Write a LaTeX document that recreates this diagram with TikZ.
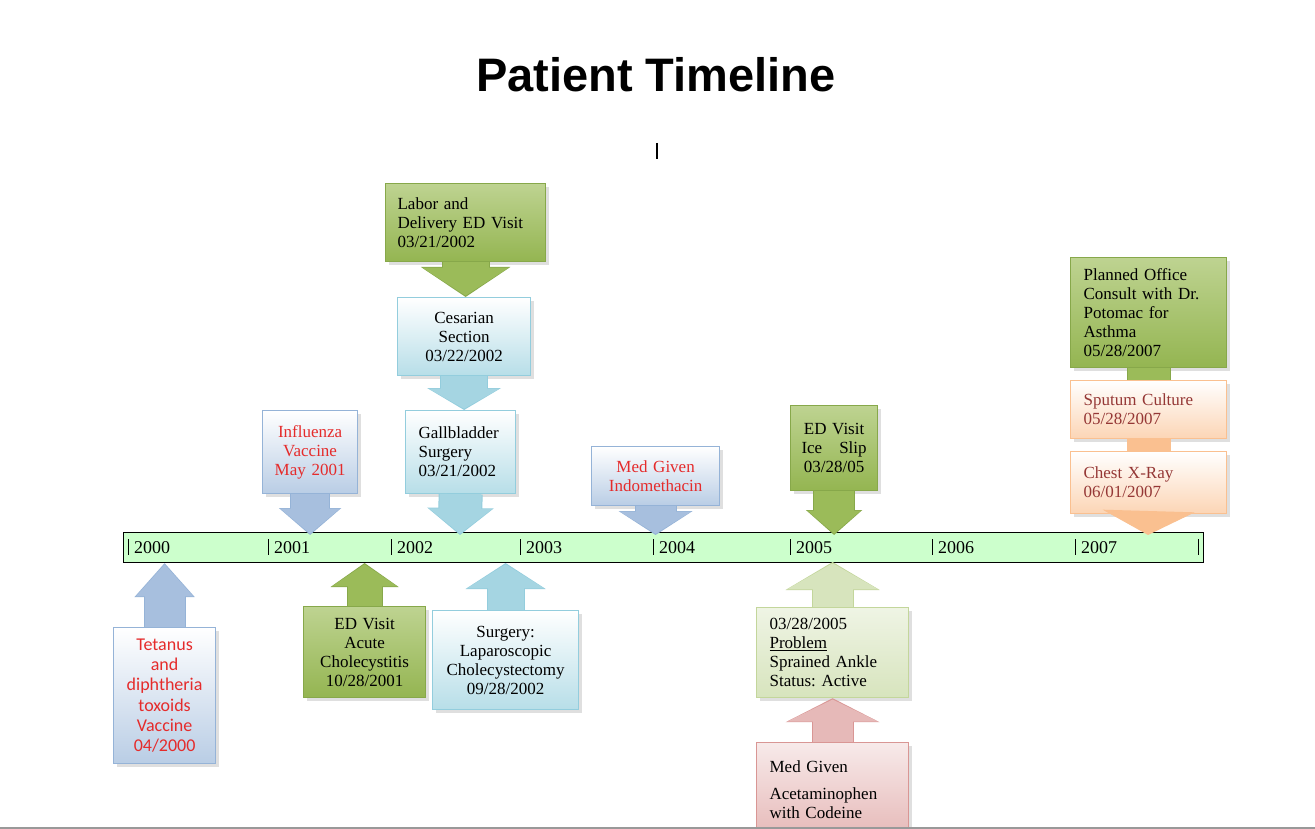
\documentclass[tikz,border=0pt]{standalone}
\usepackage{fontspec}
\setmainfont{Liberation Serif}
\newfontfamily\headfont{Liberation Sans}
\newfontfamily\calfont{Carlito}
\usetikzlibrary{arrows.meta,shadows}
\frenchspacing

\definecolor{blueline}{HTML}{95B3D7}
\definecolor{bluefill}{HTML}{B9CDE5}
\definecolor{bluearrow}{HTML}{A7BFDE}
\definecolor{cyanline}{HTML}{93CDDD}
\definecolor{cyanfill}{HTML}{B7DEE8}
\definecolor{cyanarrow}{HTML}{A5D5E2}
\definecolor{greenline}{HTML}{87A84A}
\definecolor{greentop}{HTML}{BED391}
\definecolor{greenfill}{HTML}{94B551}
\definecolor{greenarrow}{HTML}{9BBB59}
\definecolor{paleline}{HTML}{C3D69B}
\definecolor{palefill}{HTML}{D7E4BD}
\definecolor{palearrow}{HTML}{D7E4BD}
\definecolor{peachline}{HTML}{FAC090}
\definecolor{peachfill}{HTML}{FCD5B5}
\definecolor{peacharrow}{HTML}{FAC090}
\definecolor{pinkline}{HTML}{D99694}
\definecolor{pinkfill}{HTML}{E6B9B8}
\definecolor{pinkarrow}{HTML}{E6B9B8}
\definecolor{barfill}{HTML}{CCFFCC}
\definecolor{alertred}{HTML}{E52B2B}
\definecolor{darkred}{HTML}{953735}

\newcommand{\boxfont}{\fontsize{17}{19}\selectfont}

% block arrow: from, to, shaft, head width, head length, colour prefix
\newcommand{\blockarrow}[6]{%
	\pgfmathsetmacro{\arsw}{#3+2}%
	\pgfmathsetmacro{\arhw}{#4+3}%
	\pgfmathsetmacro{\arhl}{#5+2}%
	\draw[#6line, line width=\arsw pt, -{Triangle[width=\arhw pt, length=\arhl pt]}]
		(#1) -- (#2);
	\draw[#6arrow, line width=#3pt, shorten >=1.3pt, -{Triangle[width=#4pt, length=#5pt]}]
		(#1) -- (#2);}
% shaft only: from, to, width, colour prefix
\newcommand{\blockshaft}[4]{%
	\pgfmathsetmacro{\arsw}{#3+2}%
	\draw[#4line, line width=\arsw pt] (#1) -- (#2);
	\draw[#4arrow, line width=#3pt] (#1) -- (#2);}

\begin{document}
\begin{tikzpicture}[x=1pt, y=-1pt,
	box/.style={draw, line width=1.2pt, inner sep=0pt, font=\boxfont, align=center,
		drop shadow={shadow xshift=3pt, shadow yshift=-3pt, opacity=0.25}},
	boxsize/.style 2 args={minimum width=#1pt, minimum height=#2pt},
	bluebox/.style={box, draw=blueline, top color=white, bottom color=bluefill},
	cyanbox/.style={box, draw=cyanline, top color=white, bottom color=cyanfill},
	greenbox/.style={box, draw=greenline, top color=greentop, bottom color=greenfill},
	palebox/.style={box, draw=paleline, top color=white!60!palefill, bottom color=palefill},
	peachbox/.style={box, draw=peachline, top color=white, bottom color=peachfill, text=darkred},
	pinkbox/.style={box, draw=pinkline, top color=white!70!pinkfill, bottom color=pinkfill},
	year/.style={anchor=west, inner sep=0pt, font=\fontsize{18}{20}\selectfont}]

	\useasboundingbox (0,0) rectangle (1315,829);
	\fill[white] (0,0) rectangle (1315,829);

	% title
	\node (title) at (656,75)
		{\headfont\bfseries\fontsize{47}{52}\selectfont Patient Timeline};
	\draw[line width=1.5pt] (657,143) -- (657,159);

	% timeline
	\node[draw, fill=barfill, line width=1pt, inner sep=0pt,
		minimum width=1080pt, minimum height=30pt] (bar) at (663,547) {};
	\foreach \x/\yr in {128/2000, 268/2001, 391/2002, 520/2003, 653/2004,
			790/2005, 932/2006, 1075/2007} {
		\draw[line width=0.9pt] (\x,539) -- (\x,555);
		\node[year] (y\yr) at (\x+6,548) {\yr};
	}
	\draw[line width=0.9pt] (1198,539) -- (1198,555);

	% above the timeline
	\node[greenbox, boxsize={160}{78}, text width=136pt, align=left, anchor=north west]
		(labor) at (385,183) {Labor and\\Delivery ED Visit\\03/21/2002};
	\node[cyanbox, boxsize={133}{78}, text width=120pt, anchor=north west]
		(csect) at (397,297) {Cesarian\\Section\\03/22/2002};
	\node[cyanbox, boxsize={110}{83}, text width=84pt, align=left, anchor=north west]
		(gall) at (405,410) {Gallbladder\\Surgery\\03/21/2002};
	\node[bluebox, boxsize={95}{83}, text width=90pt, text=alertred, anchor=north west]
		(flu) at (262,410) {Influenza\\Vaccine\\May 2001};
	\node[bluebox, boxsize={128}{59}, text width=120pt, text=alertred, anchor=north west]
		(indo) at (591,446) {Med Given\\Indomethacin};
	\node[greenbox, boxsize={87}{85}, text width=84pt, anchor=north west]
		(ice) at (790,405) {ED Visit\\Ice\ \ \ Slip\\03/28/05};
	\node[greenbox, boxsize={156}{110}, text width=130pt, align=left, anchor=north west]
		(consult) at (1070,257) {Planned Office\\Consult with Dr.\\Potomac for\\Asthma\\05/28/2007};
	\node[peachbox, boxsize={156}{58}, text width=130pt, align=left, anchor=north west]
		(sputum) at (1070,380) {Sputum Culture\\05/28/2007};
	\node[peachbox, boxsize={156}{62}, text width=130pt, align=left, anchor=north west]
		(xray) at (1070,451) {Chest X-Ray\\06/01/2007};

	% below the timeline
	\node[bluebox, boxsize={102}{136}, text width=98pt, text=alertred, anchor=north west,
		font=\calfont\fontsize{18}{20.2}\selectfont]
		(tetanus) at (113,627) {Tetanus\\and\\diphtheria\\toxoids\\Vaccine\\04/2000};
	\node[greenbox, boxsize={122}{91}, text width=118pt, anchor=north west]
		(acute) at (303,606) {ED Visit\\Acute\\Cholecystitis\\10/28/2001};
	\node[cyanbox, boxsize={146}{99}, text width=140pt, anchor=north west]
		(lapchole) at (432,610) {Surgery:\\Laparoscopic\\Cholecystectomy\\09/28/2002};
	\node[palebox, boxsize={152}{90}, text width=126pt, align=left, anchor=north west]
		(sprain) at (756,607) {03/28/2005\\\underline{Problem}\\Sprained Ankle\\Status: Active};
	\node[pinkbox, boxsize={152}{95}, text width=126pt, align=left, anchor=north west]
		(acet) at (756,742) {Med Given\\[8pt]Acetaminophen\\with Codeine};

	% tips
	\coordinate (csect-top) at (labor.south |- csect.north);
	\coordinate (gall-top) at (csect.south |- gall.north);
	\coordinate (gall-tip) at (460,535);
	\coordinate (flu-tip) at (flu.south |- gall-tip);
	\coordinate (indo-tip) at (indo.south |- gall-tip);
	\coordinate (ice-tip) at (ice.south |- gall-tip);
	\coordinate (xray-tip) at (1148,535);
	\coordinate (tetanus-tip) at (tetanus.north |- 0,563);
	\coordinate (acute-tip) at (acute.north |- 0,563);
	\coordinate (lapchole-tip) at (lapchole.north |- 0,563);
	\coordinate (sprain-tip) at (sprain.north |- 0,562);
	\coordinate (acet-tip) at (acet.north |- sprain.south);

	% arrows
	\blockarrow{labor.south}{csect-top}{46}{85}{28}{green}
	\blockarrow{csect.south}{gall-top}{46}{70}{20}{cyan}
	\blockarrow{gall.south}{gall-tip}{42}{62}{25}{cyan}
	\blockarrow{flu.south}{flu-tip}{38}{58}{25}{blue}
	\blockarrow{indo.south}{indo-tip}{40}{70}{22}{blue}
	\blockarrow{ice.south}{ice-tip}{40}{52}{23}{green}
	\blockshaft{consult.south}{sputum.north}{42}{green}
	\blockshaft{sputum.south}{xray.north}{42}{peach}
	\blockarrow{xray.south}{xray-tip}{44}{88}{22}{peach}
	\blockarrow{tetanus.north}{tetanus-tip}{40}{55}{32}{blue}
	\blockarrow{acute.north}{acute-tip}{34}{64}{22}{green}
	\blockarrow{lapchole.north}{lapchole-tip}{36}{76}{24}{cyan}
	\blockarrow{sprain.north}{sprain-tip}{40}{90}{26}{pale}
	\blockarrow{acet.north}{acet-tip}{40}{90}{22}{pink}

	% page edge
	\draw[gray!80, line width=1.5pt] (0,828) -- (1315,828);
\end{tikzpicture}
\end{document}
